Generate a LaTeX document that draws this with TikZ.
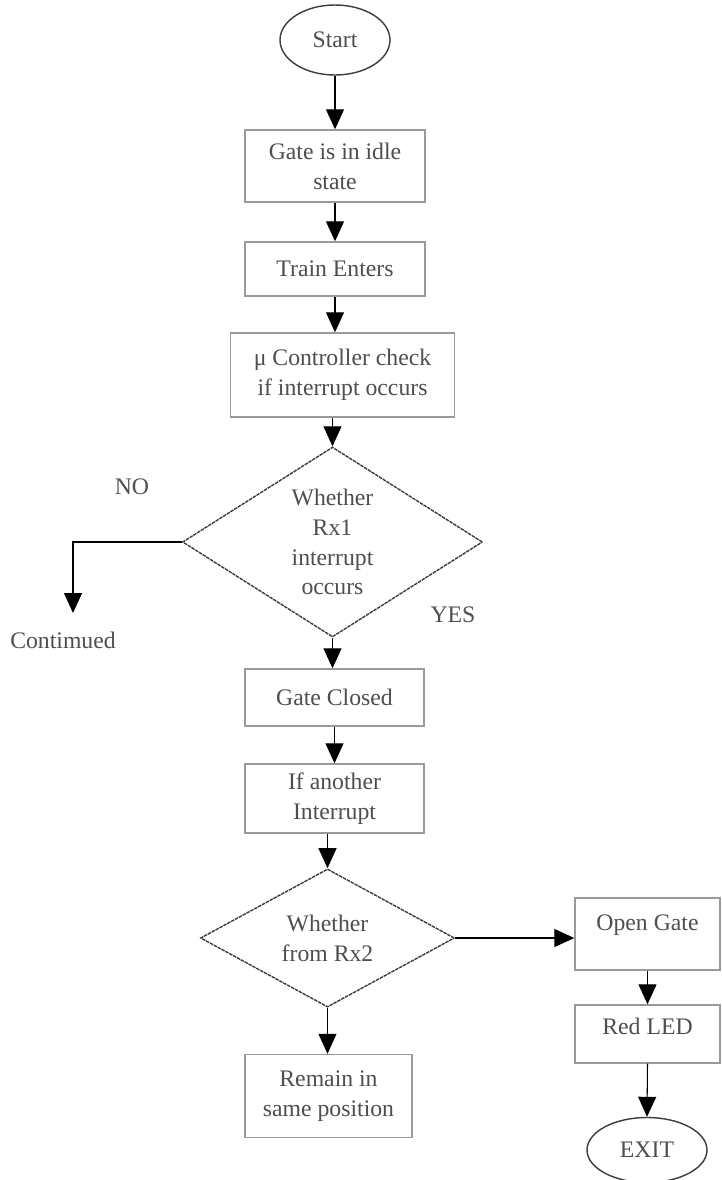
\documentclass[tikz,border=0pt]{standalone}
\usepackage{fontspec}
\setmainfont{Liberation Serif}
\usepackage{tikz}
\usetikzlibrary{arrows.meta,positioning,calc,shapes.geometric}
\definecolor{boxline}{HTML}{9A9A9A}
\definecolor{darkline}{HTML}{3C3C3C}
\definecolor{txtgray}{HTML}{4E4E4E}
\tikzset{
  % Process boxes
  procbox/.style={draw=boxline,thick,fill=white,align=center,inner sep=2pt,
                  font=\fontsize{13.5}{17}\selectfont,text=txtgray},
  % Decisions
  decision/.style={draw=darkline,thick,dashed,dash pattern=on 2pt off 0.5pt,diamond,
                   inner sep=0pt,align=center,font=\fontsize{13.5}{17}\selectfont,text=txtgray},
  % Start / exit
  terminal/.style={draw=darkline,thick,ellipse,inner sep=0pt,
                   font=\fontsize{13.5}{17}\selectfont,text=txtgray},
  % Connectors & labels
  fl/.style={-{Triangle[length=4mm,width=3.6mm]},black,semithick},
  fllb/.style={font=\fontsize{13.5}{17}\selectfont,text=txtgray,inner sep=1pt}
}
\begin{document}
\begin{tikzpicture}
  \useasboundingbox (0,0) rectangle (14.42,-23.6);

  \node[terminal,minimum width=2.2cm,minimum height=1.4cm] (start) at (6.7,-0.8) {Start};
  \node[procbox,minimum width=3.6cm,minimum height=1.44cm] (idle) at (6.7,-3.32) {Gate is in idle\\state};
  \node[procbox,minimum width=3.6cm,minimum height=1.08cm] (enter) at (6.7,-5.38) {Train Enters};
  \node[procbox,minimum width=4.48cm,minimum height=1.68cm] (check) at (6.85,-7.5) {μ Controller check\\if interrupt occurs};
  \node[decision,minimum width=6.0cm,minimum height=3.8cm] (rx1) at (6.65,-10.84) {Whether\\Rx1\\interrupt\\occurs};
  \node[procbox,minimum width=3.58cm,minimum height=1.14cm] (closed) at (6.69,-13.95) {Gate Closed};
  \node[procbox,minimum width=3.58cm,minimum height=1.38cm] (another) at (6.69,-15.97) {If another\\Interrupt};
  \node[decision,minimum width=5.08cm,minimum height=2.72cm] (rx2) at (6.55,-18.76) {Whether\\from Rx2};
  \node[procbox,minimum width=3.34cm,minimum height=1.66cm] (remain) at (6.57,-21.92) {Remain in\\same position};
  \node[procbox,minimum width=2.9cm,minimum height=1.44cm,text depth=0.45cm] (open) at (12.95,-18.68) {Open Gate};
  \node[procbox,minimum width=2.9cm,minimum height=1.16cm,text depth=0.3cm] (led) at (12.95,-20.68) {Red LED};
  \node[terminal,minimum width=2.4cm,minimum height=1.3cm] (exit) at (12.94,-23.0) {EXIT};

  % branch labels
  \node[fllb] (no) at (2.64,-9.74) {NO};
  \node[fllb] (yes) at (9.06,-12.3) {YES};
  \node[fllb] (cont) at (1.26,-12.8) {Contimued};
  \coordinate (noend) at (1.46,-12.26);

  % main column
  \draw[fl] (start.south) -- (start.south |- idle.north);
  \draw[fl] (idle.south) -- (idle.south |- enter.north);
  \draw[fl] (enter.south) -- (enter.south |- check.north);
  \draw[fl] (check.south -| rx1.north) -- (rx1.north);
  \draw[fl] (rx1.south) -- (rx1.south |- closed.north);
  \draw[fl] (closed.south) -- (closed.south |- another.north);
  \draw[fl] (another.south -| rx2.north) -- (rx2.north);
  \draw[fl] (rx2.south) -- (rx2.south |- remain.north);

  % NO branch
  \draw[fl] (rx1.west) -| (noend);

  % Rx2 -> open gate -> LED -> exit
  \draw[fl] (rx2.east) -- (rx2.east -| open.west);
  \draw[fl] (open.south) -- (led.north);
  \draw[fl] (led.south) -- (exit.north);
\end{tikzpicture}
\end{document}
